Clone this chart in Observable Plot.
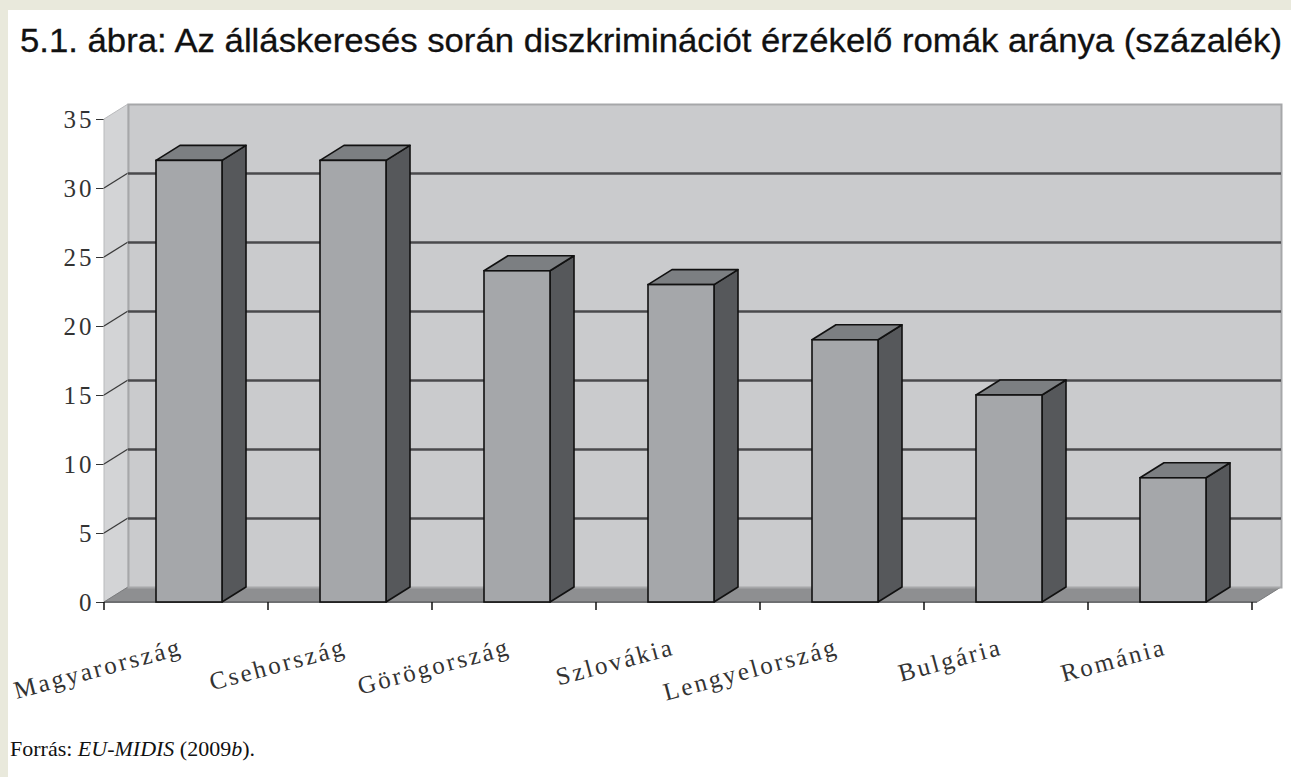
<!DOCTYPE html>
<html><head><meta charset="utf-8">
<script src="https://cdn.jsdelivr.net/npm/d3@7"></script>
<script src="https://cdn.jsdelivr.net/npm/@observablehq/plot@0.6"></script>
<style>
html,body{margin:0;padding:0;width:1291px;height:777px;overflow:hidden;background:#e9e9dc;}
#panel{position:absolute;left:8px;top:10px;width:1283px;height:767px;background:#fff;}
#title{position:absolute;left:12px;top:13px;font-family:"Liberation Sans Narrow","Liberation Sans",Arial,sans-serif;font-size:33px;line-height:36px;white-space:nowrap;transform-origin:0 0;color:#111;-webkit-text-stroke:0.3px #111;}
#chart{position:absolute;left:0;top:70px;}
#source{position:absolute;left:2px;top:726px;font-family:"Liberation Serif","Times New Roman",serif;font-size:22px;line-height:26px;color:#111;white-space:nowrap;}
#chart svg text{font-family:"Liberation Serif","Times New Roman",serif !important;}
#chart svg g[aria-label="text"] text{letter-spacing:2.5px;}
#chart svg g[aria-label="y-axis tick label"] text{letter-spacing:3px;}
</style></head>
<body>
<div id="panel">
  <div id="title">5.1. ábra: Az álláskeresés során diszkriminációt érzékelő romák aránya (százalék)</div>
  <div id="chart"></div>
  <div id="source">Forrás: <i>EU-MIDIS</i> (2009<i>b</i>).</div>
</div>
<script>
const countries = ["Magyarország","Csehország","Görögország","Szlovákia","Lengyelország","Bulgária","Románia"];
const values = [32, 32, 24, 23, 19, 15, 9];
const yTicks = [0, 5, 10, 15, 20, 25, 30, 35];

const data = countries.map((c, i) => ({country: c, value: values[i]}));
const DX = 24, DY = -15;

function poly(g, pts, fill, stroke, sw) {
  g.append("path")
    .attr("d", "M" + pts.map(p => p.join(",")).join("L") + "Z")
    .attr("fill", fill)
    .attr("stroke", stroke || "none")
    .attr("stroke-width", sw || 0)
    .attr("stroke-linejoin", "round");
}

// walls and floor
const walls = (index, scales, values, dims) => {
  const g = d3.create("svg:g");
  const x0 = dims.marginLeft, x1 = dims.width - dims.marginRight;
  const y0 = scales.y(0), yTop = scales.y(yTicks[yTicks.length - 1]);
  poly(g, [[x0, y0], [x0 + DX, y0 + DY], [x0 + DX, yTop + DY], [x0, yTop]], "#d3d4d6", "#b9babc", 1);
  poly(g, [[x0, y0], [x1, y0], [x1 + DX, y0 + DY], [x0 + DX, y0 + DY]], "#8e8f91", "#7a7b7d", 1);
  for (const t of yTicks.slice(1, -1)) {
    g.append("line").attr("x1", x0).attr("y1", scales.y(t)).attr("x2", x0 + DX).attr("y2", scales.y(t) + DY)
      .attr("stroke", "#3a3a3a").attr("stroke-width", 1.3);
  }
  return g.node();
};

// bar side and top faces
const barFaces = (index, scales, values, dims) => {
  const g = d3.create("svg:g");
  const bw = scales.x.bandwidth();
  const y0 = scales.y(0);
  for (const d of data) {
    const xl = scales.x(d.country), xr = xl + bw, yv = scales.y(d.value);
    poly(g, [[xr, yv], [xr + DX, yv + DY], [xr + DX, y0 + DY], [xr, y0]], "#56585b", "#111", 1.6);
    poly(g, [[xl, yv], [xl + DX, yv + DY], [xr + DX, yv + DY], [xr, yv]], "#7c7f82", "#111", 1.6);
  }
  return g.node();
};

// x-axis ticks at band boundaries and the floor's front edge
const xTicks = (index, scales, values, dims) => {
  const g = d3.create("svg:g");
  const x0 = dims.marginLeft, x1 = dims.width - dims.marginRight;
  const y0 = scales.y(0);
  const step = scales.x.step();
  g.append("line").attr("x1", x0).attr("x2", x1).attr("y1", y0).attr("y2", y0).attr("stroke", "#6e6f71").attr("stroke-width", 2);
  for (let i = 0; i <= countries.length; i++) {
    const x = x0 + i * step;
    g.append("line").attr("x1", x).attr("x2", x).attr("y1", y0).attr("y2", y0 + 8).attr("stroke", "#111").attr("stroke-width", 1.5);
  }
  return g.node();
};

const chart = Plot.plot({
  width: 1283,
  height: 650,
  marginLeft: 96,
  marginRight: 34,
  marginTop: 39,
  marginBottom: 128,
  style: {fontFamily: "'Liberation Serif', 'Times New Roman', serif", fontSize: "25px", color: "#333", background: "transparent"},
  x: {domain: countries, paddingInner: 0.6, paddingOuter: 0.3, axis: null},
  y: {domain: [0, 35], ticks: yTicks, tickSize: 8, tickPadding: 2, label: null, line: true},
  marks: [
    walls,
    Plot.frame({fill: "#cacbcd", stroke: "#a6a7a9", strokeWidth: 2, dx: DX, dy: DY}),
    Plot.ruleY(yTicks.slice(1, -1), {stroke: "#4a4a4c", strokeWidth: 2.5, dx: DX, dy: DY}),
    xTicks,
    barFaces,
    Plot.barY(data, {x: "country", y: "value", fill: "#a5a7aa", stroke: "#111", strokeWidth: 1.6}),
    Plot.text(data, {x: "country", y: () => 0, text: "country", dx: -8, dy: 44, rotate: -15, textAnchor: "end", fill: "#333", fontSize: 25})
  ]
});
document.getElementById("chart").appendChild(chart);

// fit the title to the width it takes in the reference
const title = document.getElementById("title");
const w = title.getBoundingClientRect().width;
title.style.transform = `scaleX(${1262 / w})`;
</script>
</body></html>
